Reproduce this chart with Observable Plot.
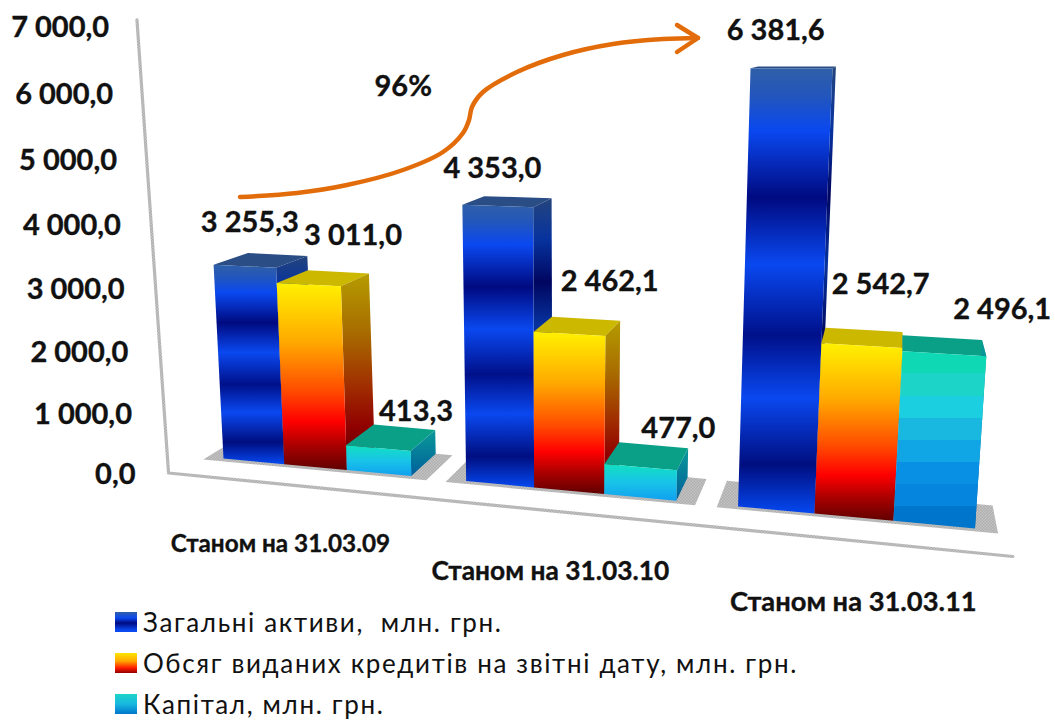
<!DOCTYPE html>
<html lang="uk">
<head>
<meta charset="utf-8">
<script src="https://cdn.jsdelivr.net/npm/d3@7"></script>
<script src="https://cdn.jsdelivr.net/npm/@observablehq/plot@0.6"></script>
<style>
  html, body { margin: 0; padding: 0; background: #fff; overflow: hidden; }
  #chart svg { display: block; background: #fff; }
  .soft { filter: blur(.55px); }
  #legend { font: 400 26px Lato, "Noto Sans", sans-serif; letter-spacing: 1.65px; color: #111; margin-top: -22px; position: relative; }
  .row { position: relative; height: 41px; line-height: 41px; padding-left: 143px; white-space: nowrap; width: fit-content; }
  .sw { position: absolute; left: 115px; top: 10px; width: 22px; height: 20px; filter: blur(.5px); }
</style>
</head>
<body>
<div id="chart"></div>
<div id="legend"></div>
<script>
// ---- Data ----
const categories = ["Станом на 31.03.09", "Станом на 31.03.10", "Станом на 31.03.11"];
const totalAssets = [3255.3, 4353.0, 6381.6];
const loans = [3011.0, 2462.1, 2542.7];
const capital = [413.3, 477.0, 2496.1];
const seriesNames = ["Загальні активи,  млн. грн.", "Обсяг виданих кредитів на звітні дату, млн. грн.", "Капітал, млн. грн."];
const tickValues = [0, 1000, 2000, 3000, 4000, 5000, 6000, 7000];
const growthLabel = "96%";

// ---- Label nudges (px), one per series and category ----
const labelDx = [[38, 15, -10], [74, 57, 21], [64, 51, 56]];
const labelDy = [[-55, -46, -40], [-62, -67, -77], [-57, -60, -60]];
const categoryShift = [1.38, 1.475, 1.56];
const categorySize = [24.3, 26.3, 27.3];
const categoryDy = [0, -1, -3];

// ---- Perspective camera of the chart: category slots u, value v, depth w ----
const slotGap = 0.83, depthBar = 0.05, depthFront = -0.05;
const groupStart = i => i * (3 + slotGap);
const U = groupStart(2) + 1, V = 6381.6;
const cal = [[223, 458], [814, 513], [832, 68], [203, 67]];
const depthVanish = [900, 30];
const H = (() => {
  const [[x0, y0], [x1, y1], [x2, y2], [x3, y3]] = cal;
  const dx1 = x1 - x2, dx2 = x3 - x2, dx3 = x0 - x1 + x2 - x3;
  const dy1 = y1 - y2, dy2 = y3 - y2, dy3 = y0 - y1 + y2 - y3;
  const den = dx1 * dy2 - dx2 * dy1;
  const g = (dx3 * dy2 - dx2 * dy3) / den, h = (dx1 * dy3 - dx3 * dy1) / den;
  return {a: x1 - x0 + g * x1, b: x3 - x0 + h * x3, c: x0, d: y1 - y0 + g * y1, e: y3 - y0 + h * y3, f: y0, g, h};
})();
function place(u, v, w) {
  const s = u / U, t = v / V, q = H.g * s + H.h * t + 1;
  const x = (H.a * s + H.b * t + H.c) / q, y = (H.d * s + H.e * t + H.f) / q;
  return [x + w * (depthVanish[0] - x), y + w * (depthVanish[1] - y)];
}
const camera = d3.geoTransform({
  point(u, v, w) {
    const [x, y] = place(u, v, w === undefined ? depthFront : w);
    this.stream.point(x, y);
  }
});

// ---- Faces of one bar as polygons in chart coordinates ----
const poly = pts => ({type: "Polygon", coordinates: [[...pts, pts[0]]]});
const faces = {
  front: (u, val) => poly([[u, 0, 0], [u + 1, 0, 0], [u + 1, val, 0], [u, val, 0]]),
  top: (u, val) => poly([[u, val, 0], [u + 1, val, 0], [u + 1, val, depthBar], [u, val, depthBar]]),
  side: (u, val) => poly([[u + 1, 0, 0], [u + 1, 0, depthBar], [u + 1, val, depthBar], [u + 1, val, 0]])
};
const allSeries = [totalAssets, loans, capital];
const shadows = categories.map((_, i) => {
  const a = groupStart(i) - 0.27, b = groupStart(i) + 3.27;
  return poly([[a, 0, -0.006], [b, 0, -0.006], [b, 0, depthBar], [a, 0, depthBar]]);
});

// ---- Colours ----
const stops = {
  gFront0: [[0, "#2f5fa8"], [.06, "#2356bb"], [.14, "#0a48f0"], [.29, "#000a80"], [.44, "#0a48f0"], [.6, "#00108a"], [.74, "#0a48f0"], [.89, "#000e80"], [1, "#0548f0"]],
  gSide0: [[0, "#24447c"], [.14, "#07339f"], [.29, "#000660"], [.44, "#07339f"], [.6, "#000a60"], [.74, "#07339f"], [.89, "#000860"], [1, "#04339f"]],
  gFront1: [[0, "#fff000"], [.05, "#ffe600"], [.32, "#ffa800"], [.58, "#ff4a00"], [.74, "#ff0000"], [.86, "#b00000"], [1, "#600000"]],
  gSide1: [[0, "#b59c00"], [.3, "#a86c00"], [.58, "#a02c00"], [.78, "#900000"], [1, "#500000"]],
  gFront2: [[0, "#0fd8b4"], [.125, "#0fd8b4"], [.125, "#1dd4c8"], [.25, "#1dd4c8"], [.25, "#1ccfe0"], [.375, "#1ccfe0"], [.375, "#18b8e0"], [.5, "#18b8e0"], [.5, "#10a5e5"], [.625, "#10a5e5"], [.625, "#0890e5"], [.75, "#0890e5"], [.75, "#0585dd"], [.875, "#0585dd"], [.875, "#0075cc"], [1, "#0075cc"]],
  gSmall2: [[0, "#12e0c0"], [.5, "#18c4e8"], [1, "#10a0f0"]],
  gSide2: [[0, "#0a9a98"], [1, "#005f9c"]]
};
const topColors = ["#2a4d86", "#cdb800", "#0aa088"];
function defsMark() {
  const defs = d3.create("svg:defs");
  for (const [id, list] of Object.entries(stops)) {
    const g = defs.append("linearGradient").attr("id", id).attr("x1", 0).attr("y1", 0).attr("x2", 0).attr("y2", 1);
    for (const [o, c] of list) g.append("stop").attr("offset", o).attr("stop-color", c);
  }
  const p = defs.append("pattern").attr("id", "dither").attr("width", 3).attr("height", 3).attr("patternUnits", "userSpaceOnUse");
  p.append("rect").attr("width", 3).attr("height", 3).attr("fill", "#e6e6e6");
  p.append("rect").attr("width", 1.5).attr("height", 1.5).attr("fill", "#8a8a8a");
  p.append("rect").attr("x", 1.5).attr("y", 1.5).attr("width", 1.5).attr("height", 1.5).attr("fill", "#8a8a8a");
  return defs.node();
}
const soft = (i, s, v, d, c, next) => { const g = next(i, s, v, d, c); g.classList.add("soft"); return g; };

// ---- Hand-drawn growth arrow (annotation, page pixels) ----
const arrowX = [240, 297, 347, 403, 443, 463, 469, 472, 483, 517, 563, 613, 663, 698];
const arrowY = [197, 193, 185, 170, 152, 133, 120, 107, 92, 72, 55, 44, 39, 38];
const headX = [677, 698, 677], headY = [25, 38, 52];
function arrowMark() {
  const g = d3.create("svg:g").attr("fill", "none").attr("stroke", "#e36c0a").attr("stroke-width", 4.5).attr("stroke-linecap", "round").attr("stroke-linejoin", "round");
  g.append("path").attr("d", d3.line().curve(d3.curveCatmullRom)(arrowX.map((x, i) => [x, arrowY[i]])));
  g.append("path").attr("d", d3.line()(headX.map((x, i) => [x, headY[i]])));
  return g.node();
}

// ---- Text ----
const fmt = d3.formatLocale({decimal: ",", thousands: "\u00a0", grouping: [3]}).format(",.1f");
const textStyle = {fontSize: 29, fontWeight: "bold", fill: "#111", stroke: "#111", strokeWidth: 0.35, lineAnchor: "middle"};
const valueLabels = allSeries.flatMap((values, s) => values.map((val, i) => ({s, i, val})));

const marks = [
  defsMark,
  Plot.geo([{type: "LineString", coordinates: [[-0.55, 7110, -0.04], [-0.45, 0, -0.04], [11.05, 0, depthFront]]}], {stroke: "url(#dither)", strokeWidth: 3.2, fill: "none"}),
  Plot.geo(shadows, {fill: "url(#dither)"})
];
allSeries.forEach((values, s) => {
  values.forEach((val, i) => {
    const u = groupStart(i) + s;
    const front = s === 2 && val < 1000 ? "gSmall2" : `gFront${s}`;
    marks.push(
      Plot.geo([faces.top(u, val)], {fill: topColors[s], render: soft}),
      Plot.geo([faces.side(u, val)], {fill: `url(#gSide${s})`, render: soft}),
      Plot.geo([faces.front(u, val)], {fill: `url(#${front})`, render: soft})
    );
  });
});
for (const d of valueLabels) {
  marks.push(Plot.text([d], {
    x: e => groupStart(e.i) + e.s + 0.5, y: e => e.val, text: e => fmt(e.val),
    dx: labelDx[d.s][d.i], dy: labelDy[d.s][d.i], textAnchor: "middle", ...textStyle
  }));
}
categories.forEach((name, i) => {
  marks.push(Plot.text([name], {
    x: () => groupStart(i) + categoryShift[i], y: () => -920, text: d => d, dy: categoryDy[i],
    textAnchor: "middle", ...textStyle, fontSize: categorySize[i]
  }));
});
marks.push(
  Plot.text(tickValues, {x: () => -0.87, y: d => d, text: d => fmt(d), textAnchor: "end", dy: 0, ...textStyle}),
  Plot.text([growthLabel], {x: () => 3.35, y: () => 6150, text: d => d, textAnchor: "middle", ...textStyle}),
  arrowMark
);

const plot = Plot.plot({
  width: 1055, height: 624, margin: 0,
  style: {fontFamily: 'Lato, "Noto Sans", sans-serif', background: "#fff"},
  projection: camera,
  marks
});
document.getElementById("chart").append(plot);

// ---- Legend ----
const swatches = [
  "linear-gradient(#2f5fa8,#0a48f0 30%,#000a80 55%,#0a48f0 90%)",
  "linear-gradient(#ffe600,#ffa800 40%,#ff1a00 75%,#900000)",
  "linear-gradient(#1dd4c8,#18b8e0 50%,#0075cc)"
];
const legend = d3.select("#legend");
seriesNames.forEach((name, i) => {
  const row = legend.append("div").attr("class", "row");
  row.append("span").attr("class", "sw").style("background", swatches[i]);
  row.append("span").style("white-space", "pre").text(name);
});
</script>
</body>
</html>
